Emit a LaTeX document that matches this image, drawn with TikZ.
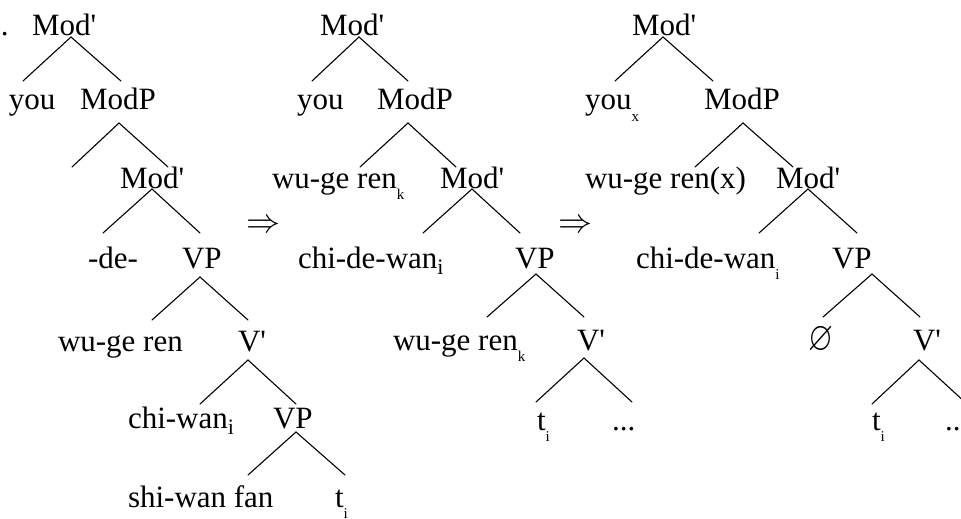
\documentclass[tikz,border=0pt]{standalone}
\usepackage{amssymb}
\usepackage{fontspec}
\setmainfont{Liberation Serif}
\newcommand{\smsub}[1]{\raisebox{-11pt}{\fontsize{15}{15}\selectfont #1}}
\newcommand{\bigsub}[1]{\raisebox{-6pt}{\fontsize{22}{22}\selectfont #1}}
\newcommand{\pq}{\textquotesingle}
\tikzset{
  lab/.style={anchor=base west, inner sep=0pt, outer sep=0pt, font=\fontsize{31}{36}\selectfont},
  br/.style={line width=1.1pt, line cap=round},
  dbl/.style={inner sep=0pt, anchor=center},
}
\begin{document}
\begin{tikzpicture}[x=1pt,y=-1pt]
\useasboundingbox (0,0) rectangle (961,519);
\clip (0,0) rectangle (961,519);
% ---------- tree 1 ----------
\node[lab] (dot) at (1,36) {.};
\node[lab] (m1) at (32,36) {Mod\pq};
\node[lab] (you1) at (9,110) {you};
\node[lab] (modp1) at (80,110) {ModP};
\node[lab] (m1b) at (120,188) {Mod\pq};
\node[lab] (de1) at (88,268) {-de-};
\node[lab] (vp1) at (182,268) {VP};
\node[lab] (wuge1) at (58,351) {wu-ge ren};
\node[lab] (vbar1) at (238,351) {V\pq};
\node[lab] (chiwan1) at (128,428) {chi-wan\bigsub{i}};
\node[lab] (vp1b) at (273,428) {VP};
\node[lab] (shiwan1) at (128,507) {shi-wan fan};
\node[lab] (t1) at (335,507) {t\smsub{i}};
\coordinate (a1) at (71,37);  \coordinate (a1l) at (23,81);  \coordinate (a1r) at (121,81);
\coordinate (a2) at (119,123); \coordinate (a2l) at (72,167); \coordinate (a2r) at (168,167);
\coordinate (a3) at (152,189); \coordinate (a3l) at (103,233); \coordinate (a3r) at (200,233);
\coordinate (a4) at (200,277); \coordinate (a4l) at (152,320); \coordinate (a4r) at (248,320);
\coordinate (a5) at (248,360); \coordinate (a5l) at (200,404); \coordinate (a5r) at (296,404);
\coordinate (a6) at (296,432); \coordinate (a6l) at (248,475); \coordinate (a6r) at (345,475);
\foreach \p in {a1,a2,a3,a4,a5,a6}{\draw[br] (\p l) -- (\p) -- (\p r);}
\node[dbl] (arr1) at (263.5,226) {\resizebox{34pt}{!}{$\Rightarrow$}};
% ---------- tree 2 ----------
\node[lab] (m2) at (320,36) {Mod\pq};
\node[lab] (you2) at (297,110) {you};
\node[lab] (modp2) at (377,110) {ModP};
\node[lab] (wuge2) at (272,188) {wu-ge ren\smsub{k}};
\node[lab] (m2b) at (440,188) {Mod\pq};
\node[lab] (chide2) at (298,268) {chi-de-wan\bigsub{i}};
\node[lab] (vp2) at (515,268) {VP};
\node[lab] (wuge2b) at (393,350) {wu-ge ren\smsub{k}};
\node[lab] (vbar2) at (577,350) {V\pq};
\node[lab] (t2) at (537,430) {t\smsub{i}};
\node[lab] (dots2) at (612,430) {...};
\coordinate (b1) at (359,37);  \coordinate (b1l) at (312,81);  \coordinate (b1r) at (408,81);
\coordinate (b2) at (408,123); \coordinate (b2l) at (360,167); \coordinate (b2r) at (456,167);
\coordinate (b3) at (472,189); \coordinate (b3l) at (423,233); \coordinate (b3r) at (520,233);
\coordinate (b4) at (536,274); \coordinate (b4l) at (487,317); \coordinate (b4r) at (584,317);
\coordinate (b5) at (584,358); \coordinate (b5l) at (536,402); \coordinate (b5r) at (632,402);
\foreach \p in {b1,b2,b3,b4,b5}{\draw[br] (\p l) -- (\p) -- (\p r);}
\node[dbl] (arr2) at (575.5,226) {\resizebox{34pt}{!}{$\Rightarrow$}};
% ---------- tree 3 ----------
\node[lab] (m3) at (632,36) {Mod\pq};
\node[lab] (you3) at (585,110) {you\smsub{x}};
\node[lab] (modp3) at (704,110) {ModP};
\node[lab] (wuge3) at (585,188) {wu-ge ren(x)};
\node[lab] (m3b) at (776,188) {Mod\pq};
\node[lab] (chide3) at (636,268) {chi-de-wan\smsub{i}};
\node[lab] (vp3) at (832,268) {VP};
\node[dbl] (empty3) at (820.5,340) {\resizebox{25pt}{24pt}{$\varnothing$}};
\node[lab] (vbar3) at (913,350) {V\pq};
\node[lab] (t3) at (872,430) {t\smsub{i}};
\node[lab] (dots3) at (945,430) {...};
\coordinate (c1) at (663,37);  \coordinate (c1l) at (615,81);  \coordinate (c1r) at (713,81);
\coordinate (c2) at (743,123); \coordinate (c2l) at (695,167); \coordinate (c2r) at (793,167);
\coordinate (c3) at (808,189); \coordinate (c3l) at (759,233); \coordinate (c3r) at (857,233);
\coordinate (c4) at (872,274); \coordinate (c4l) at (823,317); \coordinate (c4r) at (920,317);
\coordinate (c5) at (919,360); \coordinate (c5l) at (872,404); \coordinate (c5r) at (967,404);
\foreach \p in {c1,c2,c3,c4,c5}{\draw[br] (\p l) -- (\p) -- (\p r);}
\end{tikzpicture}
\end{document}
